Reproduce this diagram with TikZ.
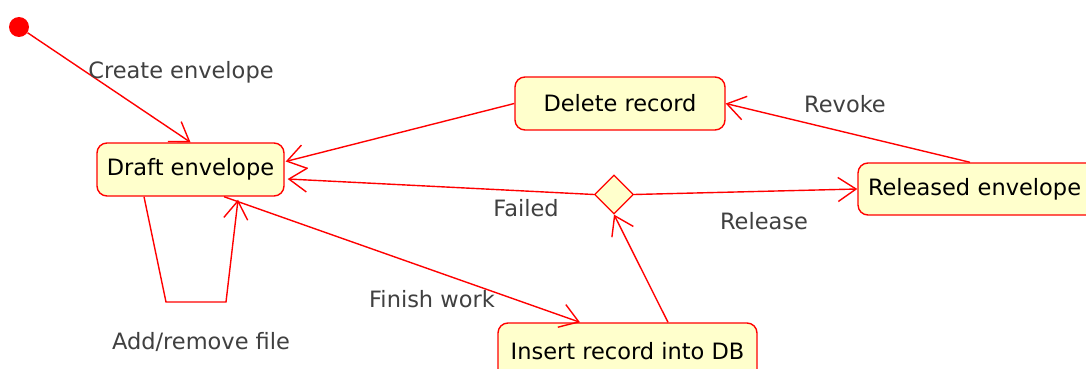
\documentclass[tikz,border=0pt]{standalone}
\usepackage{fontspec}
\setmainfont{DejaVu Sans}
\usetikzlibrary{arrows.meta,shapes.geometric,calc}
\definecolor{stfill}{HTML}{FFFFCC}
\definecolor{lbl}{HTML}{404040}
\tikzset{
  state/.style={draw=red, fill=stfill, line width=1.4pt, rounded corners=10pt, inner sep=0pt, font=\fontsize{22.5}{26}\selectfont},
  choice/.style={draw=red, fill=stfill, line width=1.2pt, diamond, aspect=1, inner sep=0pt, minimum width=39pt, minimum height=39pt},
  trans/.style={draw=red, line width=1.4pt, -{Straight Barb[length=18pt,width=24pt,line width=1.4pt]}},
  lab/.style={text=lbl, font=\fontsize{22.5}{26}\selectfont, inner sep=0pt}
}
\begin{document}
\begin{tikzpicture}[x=1pt,y=-1pt]
\clip (0,0) rectangle (1086,369);
\fill[white] (0,0) rectangle (1086,369);
% states
\node[state, minimum width=187pt, minimum height=53pt] (draft) at (190.5,169.5) {Draft envelope};
\node[state, minimum width=210pt, minimum height=53pt] (del) at (620,103.5) {Delete record};
\node[state, minimum width=250pt, minimum height=52pt, text width=230pt, align=left, inner xsep=10pt] (rel) at (983,189) {Released envelope};
\node[state, minimum width=259pt, minimum height=56pt] (ins) at (627.5,351) {Insert record into DB};
\node[choice] (dia) at (614,194.5) {};
\fill[red] (19,27) circle (10);
\node[circle, inner sep=0pt, minimum size=20pt] (start) at (19,27) {};
% helper coordinates
\coordinate (loopA) at (166,302);
\coordinate (loopB) at (226,302);
% connectors
\draw[trans] (start) -- (draft.north);
\draw[trans] ($(draft.south)+(-46.5,0)$) -- (loopA) -- (loopB) -- ($(draft.south)+(47.5,3)$);
\draw[trans] (del.west) -- ($(draft.east)+(1,-8)$);
\draw[trans] (dia.west) -- ($(draft.east)+(3,9.5)$);
\draw[trans] (dia.east) -- (rel.west);
\draw[trans] ($(rel.north)+(-13,0)$) -- (del.east);
\draw[trans] ($(ins.north)+(40.5,0)$) -- (dia.south);
\draw[trans] ($(draft.south)+(33.5,0)$) -- ($(ins.north)+(-47.5,0)$);
% labels
\node[lab] (lcreate) at (181,72) {Create envelope};
\node[lab] (lrevoke) at (845,104) {Revoke};
\node[lab] (lfailed) at (526,208) {Failed};
\node[lab] (lrelease) at (764,221) {Release};
\node[lab] (lfinish) at (432,299) {Finish work};
\node[lab] (ladd) at (201,342) {Add/remove file};
\end{tikzpicture}
\end{document}
